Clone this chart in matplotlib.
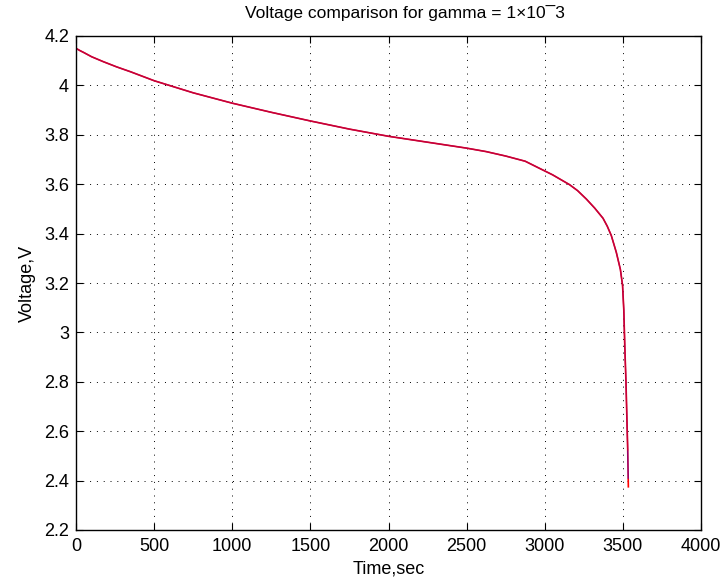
import matplotlib
matplotlib.use("Agg")
import matplotlib.pyplot as plt

plt.rcParams['font.family'] = ['Liberation Sans', 'DejaVu Sans']

# Red series (extends to the end)
t_red = [0, 25, 50, 100, 175, 260, 350, 500, 750, 1000, 1250, 1500, 1750,
         2000, 2250, 2500, 2625, 2750, 2875, 2967, 3050, 3159, 3210, 3266,
         3320, 3373, 3400, 3426, 3458, 3484, 3498, 3506, 3512, 3520, 3527,
         3531, 3535]
v_red = [4.150, 4.141, 4.133, 4.116, 4.096, 4.075, 4.055, 4.019, 3.970, 3.928,
         3.891, 3.856, 3.823, 3.794, 3.770, 3.746, 3.732, 3.714, 3.693, 3.664,
         3.638, 3.598, 3.574, 3.540, 3.503, 3.462, 3.430, 3.392, 3.324, 3.255,
         3.190, 3.090, 2.950, 2.795, 2.620, 2.524, 2.375]

# Blue series (ends slightly earlier)
t_blue = [0, 25, 50, 100, 175, 260, 350, 500, 750, 1000, 1250, 1500, 1750,
          2000, 2250, 2500, 2625, 2750, 2875, 2967, 3050, 3159, 3210, 3266,
          3320, 3373, 3400, 3426, 3458, 3484, 3498, 3506, 3512, 3520, 3527,
          3531, 3534]
v_blue = [4.150, 4.141, 4.133, 4.116, 4.096, 4.075, 4.055, 4.019, 3.970, 3.928,
          3.891, 3.856, 3.823, 3.794, 3.770, 3.746, 3.732, 3.714, 3.693, 3.664,
          3.638, 3.598, 3.574, 3.540, 3.503, 3.462, 3.430, 3.392, 3.324, 3.255,
          3.190, 3.090, 2.950, 2.795, 2.620, 2.524, 2.410]

x_ticks = [0, 500, 1000, 1500, 2000, 2500, 3000, 3500, 4000]
y_ticks = [2.2, 2.4, 2.6, 2.8, 3.0, 3.2, 3.4, 3.6, 3.8, 4.0, 4.2]
y_labels = ['2.2', '2.4', '2.6', '2.8', '3', '3.2', '3.4', '3.6', '3.8', '4', '4.2']

fig = plt.figure(figsize=(7.26, 5.86), dpi=100)
ax = fig.add_axes([76/726, 56/586, 625/726, 494/586])

ax.plot(t_red, v_red, color='red', lw=1.2)
ax.plot(t_blue, v_blue, color='blue', lw=1.0, alpha=0.45)
ax.plot(t_red[:-1], v_red[:-1], color='red', lw=0.8, alpha=0.6)

ax.set_xlim(0, 4000)
ax.set_ylim(2.2, 4.2)
ax.set_xticks(x_ticks)
ax.set_xticklabels([str(v) for v in x_ticks])
ax.set_yticks(y_ticks)
ax.set_yticklabels(y_labels)
ax.tick_params(direction='in', length=5, width=0.8, labelsize=13, top=True, right=True)
ax.tick_params(axis='x', pad=6)
ax.tick_params(axis='y', pad=5)
ax.grid(True, color='black', linestyle=(0, (1, 6)), linewidth=0.7)
for s in ax.spines.values():
    s.set_linewidth(1.0)

ax.set_xlabel('Time,sec', fontsize=13, labelpad=4)
ax.set_ylabel('Voltage,V', fontsize=13, labelpad=6)
fig.text(405/726, 1 - 13.5/586, 'Voltage comparison for gamma = 1×10\u00af3',
         fontsize=12.5, ha='center', va='center')

fig.savefig('out.png', dpi=100)
